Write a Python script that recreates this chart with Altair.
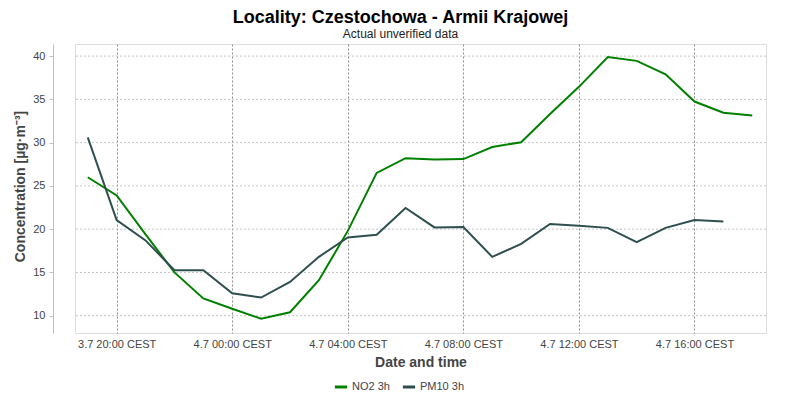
import altair as alt
import pandas as pd

times = [
    "2023-07-03T19:00:00", "2023-07-03T20:00:00", "2023-07-03T21:00:00", "2023-07-03T22:00:00",
    "2023-07-03T23:00:00", "2023-07-04T00:00:00", "2023-07-04T01:00:00", "2023-07-04T02:00:00",
    "2023-07-04T03:00:00", "2023-07-04T04:00:00", "2023-07-04T05:00:00", "2023-07-04T06:00:00",
    "2023-07-04T07:00:00", "2023-07-04T08:00:00", "2023-07-04T09:00:00", "2023-07-04T10:00:00",
    "2023-07-04T11:00:00", "2023-07-04T12:00:00", "2023-07-04T13:00:00", "2023-07-04T14:00:00",
    "2023-07-04T15:00:00", "2023-07-04T16:00:00", "2023-07-04T17:00:00", "2023-07-04T18:00:00",
]
no2 = [26.0, 23.9, 19.4, 15.0, 12.0, 10.8, 9.65, 10.4, 14.1, 19.8, 26.5, 28.2,
       28.05, 28.1, 29.5, 30.05, 33.3, 36.45, 39.9, 39.45, 37.9, 34.75, 33.45, 33.15]
pm10 = [30.6, 21.05, 18.7, 15.25, 15.25, 12.6, 12.1, 13.9, 16.8, 19.05, 19.35, 22.45,
        20.2, 20.25, 16.8, 18.3, 20.6, 20.4, 20.15, 18.5, 20.15, 21.05, 20.9]
series_names = ["NO2 3h", "PM10 3h"]
series_colors = ["#008000", "#2f4f4f"]
y_ticks = [10, 15, 20, 25, 30, 35, 40]

rows = []
for t, v in zip(times, no2):
    rows.append({"time": t, "value": v, "series": series_names[0]})
for t, v in zip(times, pm10):
    rows.append({"time": t, "value": v, "series": series_names[1]})
df = pd.DataFrame(rows)
grid_df = pd.DataFrame({"value": y_ticks})

FONT = "Liberation Sans"

x_ticks = [
    alt.DateTime(year=2023, month=7, date=3, hours=20),
    alt.DateTime(year=2023, month=7, date=4, hours=0),
    alt.DateTime(year=2023, month=7, date=4, hours=4),
    alt.DateTime(year=2023, month=7, date=4, hours=8),
    alt.DateTime(year=2023, month=7, date=4, hours=12),
    alt.DateTime(year=2023, month=7, date=4, hours=16),
]

y_scale = alt.Scale(domain=[8.0, 41.4], nice=False, zero=False)

grid = alt.Chart(grid_df).mark_rule(
    strokeDash=[2, 2], color="#c4c4c4", strokeWidth=1
).encode(
    y=alt.Y("value:Q", scale=y_scale)
)

lines = alt.Chart(df).mark_line(strokeWidth=2).encode(
    x=alt.X(
        "time:T",
        title="Date and time",
        scale=alt.Scale(domain=[
            alt.DateTime(year=2023, month=7, date=3, hours=18, minutes=33, seconds=30),
            alt.DateTime(year=2023, month=7, date=4, hours=18, minutes=28, seconds=30),
        ]),
        axis=alt.Axis(
            values=x_ticks,
            labelExpr="timeFormat(datum.value, '%-d.%-m %H:%M') + ' CEST'",
            domain=False, ticks=False, labelPadding=5,
            grid=True, gridDash=[2, 2], gridColor="#8a8a8a", gridOpacity=1,
            labelFont=FONT, labelFontSize=11, labelColor="#444444",
            titleFont=FONT, titleFontSize=14, titleFontWeight="bold", titleColor="#444444",
            titlePadding=6, labelFlush=False,
        ),
    ),
    y=alt.Y(
        "value:Q",
        title="Concentration [µg·m⁻³]",
        scale=y_scale,
        axis=alt.Axis(
            values=y_ticks, offset=22,
            domain=True, domainColor="#c0c0c0", ticks=True, tickColor="#c0c0c0", tickSize=4,
            grid=False,
            labelFont=FONT, labelFontSize=11, labelColor="#444444", labelPadding=4,
            titleFont=FONT, titleFontSize=14, titleFontWeight="bold", titleColor="#444444",
            titlePadding=5, titleY=142,
        ),
    ),
    color=alt.Color(
        "series:N",
        scale=alt.Scale(domain=series_names, range=series_colors),
        legend=alt.Legend(
            title=None, orient="none", legendX=258, legendY=335, direction="horizontal",
            symbolType="stroke", symbolStrokeWidth=3, symbolSize=150,
            labelFont=FONT, labelFontSize=11, labelColor="#444444", columnPadding=6,
            symbolOffset=0, labelOffset=3,
        ),
    ),
)

chart = alt.layer(grid, lines).properties(
    width=691,
    height=289,
    title=alt.TitleParams(
        text="Locality: Czestochowa - Armii Krajowej",
        subtitle="Actual unverified data",
        font=FONT, fontSize=18, fontWeight="bold", color="#000000",
        subtitleFont=FONT, subtitleFontSize=12, subtitleColor="#222222",
        anchor="middle", dx=-20, offset=4, subtitlePadding=2,
    ),
    autosize=alt.AutoSizeParams(type="none"),
    padding={"left": 67, "top": 36, "right": 26, "bottom": 59},
).configure_view(
    stroke="#7a7a7a", strokeWidth=1.5,
).configure(background="#ffffff")

chart.save("out.html", embed_options={"renderer": "svg", "actions": False})
